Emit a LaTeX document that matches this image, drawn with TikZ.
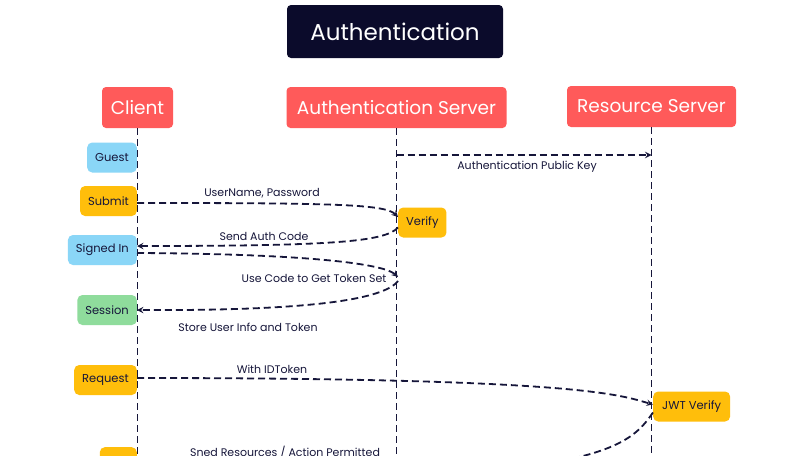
\documentclass[tikz,border=0pt]{standalone}
\usepackage{fontspec}
\setmainfont{Poppins}
\usepackage{tikz}
\usetikzlibrary{arrows, positioning}
\definecolor{navy}{HTML}{0B0B2B}
\definecolor{headred}{HTML}{FF5A5A}
\definecolor{stateyellow}{HTML}{FFBE0B}
\definecolor{stateblue}{HTML}{8AD6F7}
\definecolor{stategreen}{HTML}{8FDC9C}
\definecolor{ink}{HTML}{16163A}
\tikzstyle{titlebox} = [rectangle, rounded corners=4pt, fill=navy, text=white, minimum width=216pt, minimum height=53pt, font=\fontsize{23}{27}\selectfont]
\tikzstyle{actor} = [rectangle, rounded corners=4pt, fill=headred, text=white, minimum height=41pt, font=\fontsize{18.5}{22}\selectfont]
\tikzstyle{state} = [rectangle, rounded corners=5pt, minimum height=30pt, inner xsep=8pt, text=ink, font=\fontsize{11.5}{13}\selectfont]
\tikzstyle{lifeline} = [draw=ink, line width=1.8pt, dash pattern=on 7pt off 4pt]
\tikzstyle{message} = [draw=ink, line width=1.8pt, dash pattern=on 7pt off 4pt, ->, >=stealth]
\tikzstyle{msgtext} = [text=ink, inner sep=1pt, font=\fontsize{11}{13}\selectfont]

\begin{document}
\begin{tikzpicture}[x=1pt, y=-1pt]
		\useasboundingbox (0,0) rectangle (808,455);
		\fill[white] (0,0) rectangle (808,455);
		\clip (0,0) rectangle (808,455);
		
		% Title and actors
		\node (title) [titlebox] at (395,31.5) {Authentication};
		\node (client) [actor, minimum width=71pt] at (137.5,107.5) {Client};
		\node (authsrv) [actor, minimum width=220pt] at (396.5,107.5) {Authentication Server};
		\node (ressrv) [actor, minimum width=169pt] at (651.5,106.5) {Resource Server};
		
		% Lifelines
		\draw [lifeline] (client.south) -- (client.south |- 0,480);
		\draw [lifeline] (authsrv.south) -- (authsrv.south |- 0,480);
		\draw [lifeline] (ressrv.south) -- (ressrv.south |- 0,480);
		
		% States of the client
		\node (guest) [state, fill=stateblue, anchor=east] at (137,157.5) {Guest};
		\node (submit) [state, fill=stateyellow, anchor=east] at (137,201) {Submit};
		\node (signedin) [state, fill=stateblue, anchor=east] at (137,250) {Signed In};
		\node (session) [state, fill=stategreen, anchor=east] at (137,310) {Session};
		\node (request) [state, fill=stateyellow, anchor=east] at (137,380) {Request};
		\node (response) [state, fill=stateyellow, anchor=north east, minimum width=37pt] at (137,447) {};
		
		% States on the servers
		\node (verify) [state, fill=stateyellow, anchor=west] at (398,222.5) {Verify};
		\node (jwtverify) [state, fill=stateyellow, anchor=west, inner xsep=9pt] at (653,406.5) {JWT Verify};
		\coordinate (keyfrom) at (396.5,155);
		\coordinate (keyto) at (651.5,155);
		\coordinate (tokenin) at (398,277);
		\coordinate (tokenout) at (398,281);
		
		% Messages
		\draw [message] (keyfrom) -- (keyto);
		\draw [message] (submit.east |- 0,203) .. controls (330,203) and (385,204) .. ([yshift=5.5pt]verify.west);
		\draw [message] ([yshift=-5pt]verify.west) .. controls (385,242) and (330,246) .. ([yshift=4pt]signedin.east);
		\draw [message] ([yshift=-3pt]signedin.east) .. controls (320,254) and (385,265) .. (tokenin);
		\draw [message] (tokenout) .. controls (385,298) and (320,311) .. (session.east);
		\draw [message] ([yshift=2pt]request.east) .. controls (580,378) and (620,395) .. ([yshift=2pt]jwtverify.west);
		\draw [message] ([yshift=-6pt]jwtverify.west) .. controls (630,445) and (600,490) .. ([yshift=-8pt]response.east);
		
		% Labels
		\node (keylbl) [msgtext] at (527,167) {Authentication Public Key};
		\node (credlbl) [msgtext] at (262,193) {UserName, Password};
		\node (codelbl) [msgtext] at (264,236) {Send Auth Code};
		\node (tokenlbl) [msgtext] at (314,278) {Use Code to Get Token Set};
		\node (storelbl) [msgtext] at (248,327) {Store User Info and Token};
		\node (idtokenlbl) [msgtext] at (272,369) {With IDToken};
		\node (resplbl) [msgtext] at (285,452) {Sned Resources / Action Permitted};
		
	\end{tikzpicture}
\end{document}
